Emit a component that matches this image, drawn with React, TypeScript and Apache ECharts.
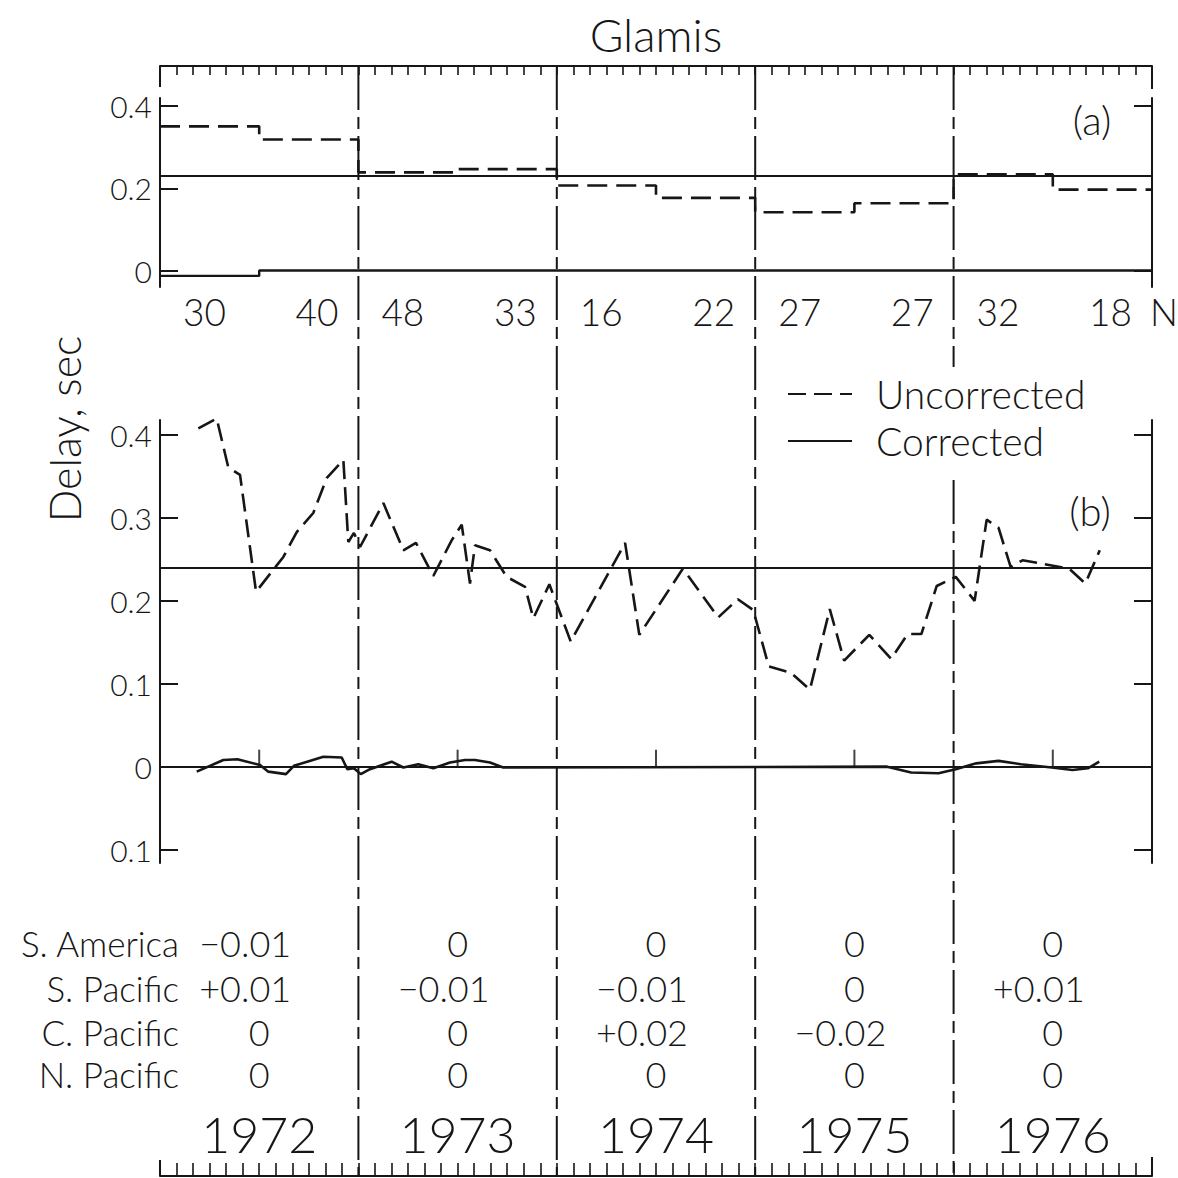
import React, { useEffect, useRef } from "react";
import * as echarts from "echarts";

// ---- data ----
const halfYearN = [30, 40, 48, 33, 16, 22, 27, 27, 32, 18];
const halfYearUncorrected = [0.351, 0.319, 0.239, 0.247, 0.207, 0.177, 0.142, 0.164, 0.234, 0.197];
const halfYearCorrected = [-0.013, 0, 0, 0, 0, 0, 0, 0, 0, 0];
const meanA = 0.231;
const meanB = 0.239;

const uncorrMonths = [2.32, 3.43, 4.13, 4.84, 5.81, 7.46, 8.27, 9.27, 10.08, 11.09, 11.39, 11.73, 12.1, 13.51, 14.72, 15.48, 16.53, 17.64, 18.25, 18.75, 19.05, 19.96, 20.97, 22.08, 22.58, 23.55, 24.84, 28.13, 28.99, 31.63, 33.76, 34.95, 35.88, 36.82, 38.17, 39.31, 40.51, 41.38, 42.9, 44.22, 45.22, 46.05, 46.98, 48.13, 49.27, 50.0, 50.72, 51.45, 52.17, 54.98, 55.97, 56.84];
const uncorrDelay = [0.408, 0.42, 0.361, 0.352, 0.211, 0.253, 0.283, 0.306, 0.348, 0.37, 0.271, 0.282, 0.265, 0.318, 0.261, 0.27, 0.23, 0.273, 0.292, 0.221, 0.267, 0.261, 0.229, 0.217, 0.179, 0.22, 0.151, 0.27, 0.159, 0.239, 0.18, 0.202, 0.189, 0.121, 0.113, 0.093, 0.19, 0.128, 0.159, 0.13, 0.16, 0.16, 0.218, 0.229, 0.2, 0.298, 0.288, 0.241, 0.249, 0.239, 0.221, 0.261];

const corrMonths = [2.22, 3.83, 4.68, 6.05, 6.55, 7.62, 8.1, 9.88, 10.99, 11.33, 11.73, 12.14, 12.7, 14.01, 14.72, 15.62, 16.53, 17.54, 18.45, 19.05, 19.96, 20.76, 43.98, 45.43, 47.09, 48.13, 49.37, 50.72, 52.07, 53.94, 55.19, 56.12, 56.81];
const corrDelay = [-0.006, 0.008, 0.009, 0.002, -0.006, -0.009, 0.001, 0.012, 0.011, -0.003, -0.002, -0.009, -0.003, 0.006, -0.001, 0.003, -0.002, 0.005, 0.008, 0.008, 0.005, -0.001, 0, -0.007, -0.008, -0.003, 0.004, 0.007, 0.003, -0.001, -0.004, -0.002, 0.006];

const years = ["1972", "1973", "1974", "1975", "1976"];
const midYearMonths = [6, 18, 30, 42, 54];
const regions = ["S. America", "S. Pacific", "C. Pacific", "N. Pacific"];
const sAmerica = ["\u22120.01", "0", "0", "0", "0"];
const sPacific = ["+0.01", "\u22120.01", "\u22120.01", "0", "+0.01"];
const cPacific = ["0", "0", "+0.02", "\u22120.02", "0"];
const nPacific = ["0", "0", "0", "0", "0"];
const topTicks = [0, 0.2, 0.4];
const topRightTicks = [0, 0.4];
const bottomTicks = [-0.1, 0, 0.1, 0.2, 0.3, 0.4];

const FONT = "Lato, 'DejaVu Sans', sans-serif";
const WEIGHT = 300;
const INK = "#161616";

function App() {
  const ref = useRef<HTMLDivElement>(null);

  useEffect(() => {
    document.body.style.margin = "0";
    const chart = echarts.init(ref.current!, null, { renderer: "svg" });

    const stepData = (vals: number[]) =>
      vals.map((v, i) => [i * 6, v]).concat([[60, vals[vals.length - 1]]]);

    const fmt = (v: number) => (Math.abs(v) < 1e-9 ? "0" : Math.abs(v).toFixed(1));

    const axisLine = { show: true, onZero: false, lineStyle: { color: INK, width: 2 } };
    const labelStyle = { fontSize: 30, fontFamily: FONT, fontWeight: WEIGHT, color: INK };

    chart.setOption({
      animation: false,
      backgroundColor: "#ffffff",
      grid: [
        { left: 160, right: 26, top: 98, height: 189 },
        { left: 160, right: 26, top: 420, bottom: 315 },
      ],
      xAxis: [
        {
          type: "value", gridIndex: 0, min: 0, max: 60, interval: 1,
          position: "top", offset: 32,
          axisLine, axisTick: { show: true, inside: true, length: 9, lineStyle: { color: INK, width: 1.6 } },
          axisLabel: { show: false }, splitLine: { show: false },
        },
        {
          type: "value", gridIndex: 1, min: 0, max: 60, interval: 1,
          position: "bottom", offset: 313,
          axisLine, axisTick: { show: true, inside: true, length: 13, lineStyle: { color: INK, width: 1.6 } },
          axisLabel: { show: false }, splitLine: { show: false },
        },
      ],
      yAxis: [
        {
          type: "value", gridIndex: 0, min: -0.04, max: 0.42, position: "left",
          axisLine, splitLine: { show: false },
          axisTick: { show: true, inside: true, length: 18, customValues: topTicks, lineStyle: { color: INK, width: 2 } },
          axisLabel: { show: true, customValues: topTicks, formatter: fmt, margin: 8, ...labelStyle },
        },
        {
          type: "value", gridIndex: 0, min: -0.04, max: 0.42, position: "right",
          axisLine, splitLine: { show: false },
          axisTick: { show: true, inside: true, length: 18, customValues: topRightTicks, lineStyle: { color: INK, width: 2 } },
          axisLabel: { show: false },
        },
        {
          type: "value", gridIndex: 1, min: -0.1162, max: 0.4182, position: "left",
          axisLine, splitLine: { show: false },
          axisTick: { show: true, inside: true, length: 18, customValues: bottomTicks, lineStyle: { color: INK, width: 2 } },
          axisLabel: { show: true, customValues: bottomTicks, formatter: fmt, margin: 8, ...labelStyle },
        },
        {
          type: "value", gridIndex: 1, min: -0.1162, max: 0.4182, position: "right",
          axisLine, splitLine: { show: false },
          axisTick: { show: true, inside: true, length: 18, customValues: bottomTicks, lineStyle: { color: INK, width: 2 } },
          axisLabel: { show: false },
        },
      ],
      legend: {
        data: ["Uncorrected", "Corrected"],
        orient: "vertical",
        left: 782,
        top: 369,
        itemWidth: 64,
        itemHeight: 14,
        itemGap: 7,
        selectedMode: false,
        itemStyle: { opacity: 0 },
        textStyle: { fontSize: 39, fontFamily: FONT, fontWeight: WEIGHT, color: INK, lineHeight: 40, padding: [0, 0, 0, 19] },
      },
      series: [
        {
          name: "Uncorrected (half-year)", type: "line", xAxisIndex: 0, yAxisIndex: 0,
          step: "end", symbol: "none", silent: true,
          data: stepData(halfYearUncorrected),
          lineStyle: { color: INK, width: 2.6, type: [20, 9] },
          markLine: {
            symbol: "none", silent: true, label: { show: false },
            lineStyle: { color: INK, width: 1.8, type: "solid" },
            data: [{ yAxis: meanA }],
          },
        },
        {
          name: "Corrected (half-year)", type: "line", xAxisIndex: 0, yAxisIndex: 0,
          step: "end", symbol: "none", silent: true,
          data: stepData(halfYearCorrected),
          lineStyle: { color: INK, width: 2.4, type: "solid" },
        },
        {
          name: "Uncorrected", type: "line", xAxisIndex: 1, yAxisIndex: 2,
          symbol: "none", showSymbol: false, silent: true,
          data: uncorrMonths.map((m, i) => [m, uncorrDelay[i]]),
          lineStyle: { color: INK, width: 2.6, type: [18, 8] },
          itemStyle: { color: INK },
          markLine: {
            symbol: "none", silent: true, label: { show: false },
            lineStyle: { color: INK, width: 1.8, type: "solid" },
            data: [{ yAxis: meanB }, { yAxis: 0 }],
          },
        },
        {
          name: "Corrected", type: "line", xAxisIndex: 1, yAxisIndex: 2,
          symbol: "none", showSymbol: false, silent: true,
          data: corrMonths.map((m, i) => [m, corrDelay[i]]),
          lineStyle: { color: INK, width: 2.6, type: "solid" },
          itemStyle: { color: INK },
        },
        {
          name: "mid-year marks", type: "scatter", xAxisIndex: 1, yAxisIndex: 2,
          silent: true, symbol: "rect", symbolSize: [2, 17], symbolOffset: [0, -8.5],
          itemStyle: { color: INK },
          data: midYearMonths.map((m) => [m, 0]),
          z: 5,
        },
      ],
    });

    // ---- annotations placed through the axes ----
    const p0 = (m: number, v: number) => chart.convertToPixel({ gridIndex: 0 }, [m, v]) as number[];
    const p1 = (m: number, v: number) => chart.convertToPixel({ gridIndex: 1 }, [m, v]) as number[];

    const rulerTop = p0(0, 0.42)[1] - 32;
    const rulerBottom = p1(0, -0.1162)[1] + 313;

    const txt = (text: string, x: number, y: number, size: number, align = "center", extra: any = {}) => ({
      type: "text", x, y, silent: true, z: 10, ...extra,
      style: {
        text, fill: INK, fontSize: size, fontFamily: FONT, fontWeight: WEIGHT,
        align, textAlign: align, verticalAlign: "middle", textVerticalAlign: "middle",
      },
    });
    const ln = (x1: number, y1: number, x2: number, y2: number, dash: any = null, w = 2) => ({
      type: "line", silent: true, z: 10,
      shape: { x1, y1, x2, y2 },
      style: dash ? { stroke: INK, lineWidth: w, lineDash: dash } : { stroke: INK, lineWidth: w },
    });

    const g: any[] = [];
    const leftX = p0(0, 0)[0];
    const rightX = p0(60, 0)[0];
    g.push(txt("Glamis", (leftX + rightX) / 2, 34, 46));
    g.push(txt("Delay, sec", 64, 429, 43, "center", { rotation: Math.PI / 2 }));
    g.push(txt("(a)", 1092, 120, 40));
    g.push(txt("(b)", 1090, 511, 40));

    // year boundaries (the last one is interrupted behind the legend)
    const dash = [44, 7, 12, 7];
    for (let k = 1; k < 5; k++) {
      const x = p0(12 * k, 0)[0];
      if (k === 4) {
        g.push(ln(x, rulerTop, x, 367, dash, 2));
        g.push(ln(x, 480, x, rulerBottom, dash, 2));
      } else {
        g.push(ln(x, rulerTop, x, rulerBottom, dash, 2));
      }
    }
    // ruler end ticks
    g.push(ln(leftX, rulerTop, leftX, rulerTop + 21));
    g.push(ln(rightX, rulerTop, rightX, rulerTop + 23));
    g.push(ln(leftX, rulerBottom - 16, leftX, rulerBottom));
    g.push(ln(rightX, rulerBottom - 19, rightX, rulerBottom));

    // N counts per half year
    const nY = 311;
    halfYearN.forEach((n, i) => {
      const year = Math.floor(i / 2);
      if (i % 2 === 0) {
        g.push(txt(String(n), p0(12 * year, 0)[0] + 23, nY, 37, "left"));
      } else {
        g.push(txt(String(n), p0(12 * year + 12, 0)[0] - 20, nY, 37, "right"));
      }
    });
    g.push(txt("N", rightX - 2, nY, 37, "left"));

    // region table
    const rowY = [943, 988, 1032, 1074];
    const rows = [sAmerica, sPacific, cPacific, nPacific];
    regions.forEach((r, ri) => {
      g.push(txt(r, 179, rowY[ri], 35, "right"));
      rows[ri].forEach((val, yi) => {
        const cx = p1(12 * yi + 6, 0)[0];
        const off = val === "0" ? 0 : -14;
        g.push(txt(val, cx + off, rowY[ri], 36));
      });
    });
    years.forEach((y, yi) => {
      const cx = p1(12 * yi + 6, 0)[0];
      g.push(txt(y, cx, 1134, 50));
    });

    chart.setOption({ graphic: g });

    return () => chart.dispose();
  }, []);

  return <div ref={ref} style={{ width: 1178, height: 1178 }} />;
}

export default App;
